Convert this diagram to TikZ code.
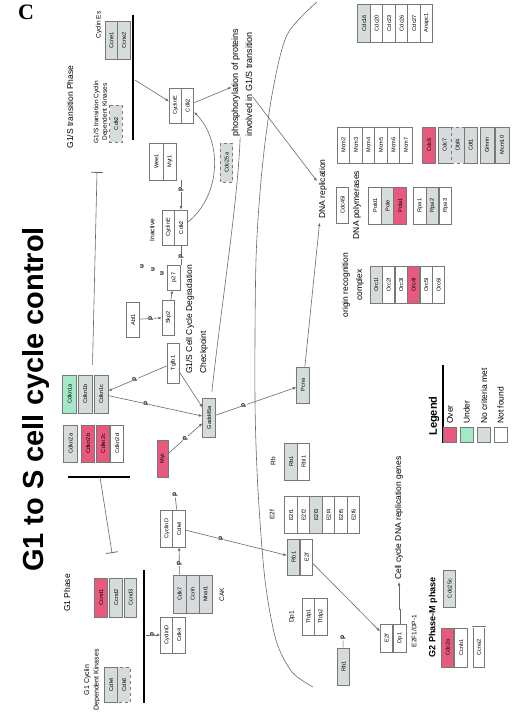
\documentclass[tikz,border=0pt]{standalone}
\usepackage{fontspec}
\setmainfont{Liberation Sans}
\newfontfamily\panelfont{Liberation Serif}
\usetikzlibrary{arrows.meta,positioning}
\definecolor{overred}{RGB}{232,90,125}
\definecolor{undergreen}{RGB}{165,232,200}
\definecolor{nocritgray}{RGB}{214,220,220}
\definecolor{boxline}{RGB}{120,120,120}
\definecolor{linkgray}{RGB}{105,105,105}
\newcommand{\genefont}{\fontsize{5.6}{6}\selectfont}
\newcommand{\lblfont}{\fontsize{8.5}{10}\selectfont}
\newcommand{\smallfont}{\fontsize{6.5}{8.5}\selectfont}
\newcommand{\ptagfont}{\fontsize{6.5}{6.5}\selectfont\bfseries}

\begin{document}
\begin{tikzpicture}[x=1pt,y=-1pt,
    gene/.style={draw=boxline, line width=0.6pt, fill=white, rotate=90, minimum width=37pt, minimum height=12.5pt, inner sep=0pt, font=\genefont},
    over/.style={gene, fill=overred},
    under/.style={gene, fill=undergreen},
    nocrit/.style={gene, fill=nocritgray},
    lbl/.style={rotate=90, inner sep=0pt, font=\lblfont},
    ptag/.style={rotate=90, inner sep=0.4pt, fill=white, font=\ptagfont},
    link/.style={draw=linkgray, line width=0.6pt},
    act/.style={link, -{Latex[length=3.5pt,width=2.8pt]}},
    inh/.style={link, -{Bar[width=12pt,line width=0.8pt]}},
    phasebar/.style={draw=black, line width=1.6pt}]
    \tikzstyle{every node}+=[text=black]
    \useasboundingbox (0,0) rectangle (520,724);

    % titles
    \node[font=\panelfont\bfseries\fontsize{22}{22}\selectfont, inner sep=0pt] (panel) at (26,12) {C};
    \node[rotate=90, anchor=base, inner sep=0pt, font=\bfseries\fontsize{29}{29}\selectfont] (title) at (43.5,399.5) {G1 to S cell cycle control};

    % G1/S transition phase
    \node[lbl] (g1sphase) at (70,107) {G1/S transition Phase};
    \node[lbl, font=\smallfont, align=center] (g1scdk) at (101,112) {G1/S transition Cyclin\\Dependent Kinases};
    \node[lbl, font=\smallfont] (cycEs) at (99,25) {Cyclin Es};
    \node[nocrit, minimum width=38pt] (ccne1) at (111.5,40) {Ccne1};
    \node[nocrit, minimum width=38pt] (ccne2) at (124,40) {Ccne2};
    \node[nocrit, dashed] (cdk2) at (116,123.5) {Cdk2};
    \draw[phasebar] (133,15) -- (133,140);
    \coordinate (g1sarr) at (135,80);

    % cyclin E / Cdk2
    \node[gene, minimum width=35pt] (cycE) at (175.5,105.5) {CyclinE};
    \node[gene, minimum width=35pt] (cdkE) at (187.5,105.5) {Cdk2};
    \node[gene, minimum height=13.5pt] (wee1) at (156.5,161.5) {Wee1};
    \node[gene, minimum height=13.5pt] (myt1) at (170,161.5) {Myt1};
    \node[lbl, font=\smallfont] (inactive) at (152,230) {Inactive};
    \node[gene, minimum width=35pt] (inactE) at (168.5,227.5) {CyclinE};
    \node[gene, minimum width=35pt] (inactK) at (181,227.5) {Cdk2};
    \node[nocrit, dashed, minimum width=39pt] (cdc25a) at (226.5,162.5) {Cdc25a};
    \node[gene, minimum width=25pt] (p27) at (174,277.5) {p27};
    \node[ptag] (ubA) at (142,267) {u};
    \node[ptag] (ubB) at (153,270) {u};
    \node[ptag] (ubC) at (162,274) {u};
    \node[gene, minimum width=35pt] (skp2) at (168.5,317.5) {Skp2};
    \node[gene, minimum width=35pt] (abl1) at (133,319.5) {Abl1};
    \node[gene, minimum width=40pt] (tgfb1) at (173.5,363) {Tgfb1};
    \node[lbl, align=left, anchor=west, font=\fontsize{8.5}{14}\selectfont] (checkpt) at (197,374) {G1/S Cell Cycle Degradation\\Checkpoint};
    \node[lbl, align=left, anchor=west, font=\fontsize{9}{14}\selectfont] (phos) at (242,137) {phosphorylation of proteins\\involved in G1/S transition};

    % CDK inhibitors
    \node[under, minimum width=38pt, minimum height=14pt] (cdkn1a) at (69.5,394) {Cdkn1a};
    \node[nocrit, minimum width=38pt, minimum height=14pt] (cdkn1b) at (85,394) {Cdkn1b};
    \node[nocrit, minimum width=38pt, minimum height=14pt] (cdkn1c) at (101,394) {Cdkn1c};
    \node[nocrit, minimum height=13.5pt] (cdkn2a) at (70.5,443.5) {Cdkn2a};
    \node[over, minimum height=13.5pt] (cdkn2b) at (88,443.5) {Cdkn2b};
    \node[over, minimum height=13.5pt] (cdkn2c) at (103,443.5) {Cdkn2c};
    \node[gene, minimum height=13.5pt] (cdkn2d) at (117,443.5) {Cdkn2d};
    \draw[phasebar, line width=1.2pt] (68,477) -- (130,477);
    \coordinate (cdkn2br) at (100,477);
    \coordinate (g1sinh) at (97,172);
    \coordinate (g1inh) at (112,553);
    \node[over, minimum height=11pt] (myc) at (162.5,458.5) {Myc};
    \node[nocrit, minimum width=39pt] (gadd) at (209,417.5) {Gadd45a};

    % G1 phase
    \node[lbl] (g1phase) at (67,593) {G1 Phase};
    \node[lbl, font=\smallfont] (cycDs) at (100,597) {Cyclin Ds};
    \node[over, minimum width=39pt] (ccnd1) at (101,597.5) {Ccnd1};
    \node[nocrit, minimum width=39pt] (ccnd2) at (116,597.5) {Ccnd2};
    \node[nocrit, minimum width=39pt] (ccnd3) at (130.5,597.5) {Ccnd3};
    \node[lbl, font=\fontsize{7}{9.5}\selectfont, align=center] (g1cdk) at (92,680) {G1 Cyclin\\Dependent Kinases};
    \node[nocrit, minimum width=35pt] (cdk4) at (111,684.5) {Cdk4};
    \node[nocrit, dashed, minimum width=35pt] (cdk6) at (124,684.5) {Cdk6};
    \draw[phasebar] (144,570) -- (144,703);
    \coordinate (g1arr) at (146,635);
    \node[gene, minimum width=36pt] (cycDb) at (167,635) {CyclinD};
    \node[gene, minimum width=36pt] (cdk4b) at (179,635) {Cdk4};
    \node[gene] (cycDa) at (167,528.5) {CyclinD};
    \node[gene] (cdk4a) at (179,528.5) {Cdk4};
    \node[nocrit, minimum width=38pt, minimum height=13pt] (cdk7) at (179.5,594) {Cdk7};
    \node[nocrit, minimum width=38pt, minimum height=13pt] (ccnh) at (192.5,594) {Ccnh};
    \node[nocrit, minimum width=38pt, minimum height=13pt] (mnat1) at (205.5,594) {Mnat1};
    \node[lbl, font=\smallfont] (caklbl) at (222,595) {CAK};
    \node[ptag] (pD) at (175,495) {p};

    % Rb / E2f
    \node[lbl, font=\smallfont] (rblbl) at (273,461) {Rb};
    \node[nocrit] (rb1) at (291,461.5) {Rb1};
    \node[gene] (rbl1) at (303.5,461.5) {Rbl1};
    \node[lbl, font=\smallfont] (e2flbl) at (272,515) {E2f};
    \node[gene] (e2f1) at (291,515) {E2f1};
    \node[gene] (e2f2) at (303.5,515) {E2f2};
    \node[nocrit] (e2f3) at (316,515) {E2f3};
    \node[gene] (e2f4) at (328.5,515) {E2f4};
    \node[gene] (e2f5) at (341,515) {E2f5};
    \node[gene] (e2f6) at (353.5,515) {E2f6};
    \node[nocrit, minimum width=36pt] (rbE) at (293.5,557) {Rb1};
    \node[gene, minimum width=36pt] (e2fE) at (306.5,557) {E2f};
    \node[lbl, font=\smallfont] (dp1lbl) at (292,617) {Dp1};
    \node[gene] (tfdp1) at (309,616.5) {Tfdp1};
    \node[gene] (tfdp2) at (321,616.5) {Tfdp2};
    \node[ptag] (pRb) at (343,638) {p};
    \node[nocrit] (rbp) at (343.5,666.5) {Rb1};
    \node[gene, minimum width=28pt] (e2fd) at (386.5,638) {E2f};
    \node[gene, minimum width=28pt] (dp1) at (400,638) {Dp1};
    \node[lbl, font=\smallfont] (e2fdplbl) at (414,631) {E2F1/DP-1};
    \node[lbl, anchor=west] (ccgenes) at (399,580) {Cell cycle DNA replication genes};

    % G2/M
    \node[lbl, font=\bfseries\fontsize{9}{10}\selectfont] (g2m) at (433,617) {G2 Phase-M phase};
    \node[nocrit] (cdc25c) at (449.5,588.5) {Cdc25c};
    \node[over, minimum width=39pt] (cdc2a) at (447.5,647.5) {Cdc2a};
    \node[gene, minimum width=39pt] (ccnb1) at (461,647.5) {Ccnb1};
    \node[gene, double, minimum width=41pt] (ccna2) at (479,647.5) {Ccna2};

    % DNA replication
    \node[lbl] (dnarep) at (323,189) {DNA replication};
    \node[gene, minimum width=36pt] (mcm2) at (343.5,145) {Mcm2};
    \node[gene, minimum width=36pt] (mcm3) at (356,145) {Mcm3};
    \node[gene, minimum width=36pt] (mcm4) at (368.5,145) {Mcm4};
    \node[gene, minimum width=36pt] (mcm5) at (381,145) {Mcm5};
    \node[gene, minimum width=36pt] (mcm6) at (393.5,145) {Mcm6};
    \node[gene, minimum width=36pt] (mcm7) at (406,145) {Mcm7};
    \node[over, minimum width=36pt] (cdc6) at (429,145) {Cdc6};
    \node[nocrit, minimum width=36pt, minimum height=13pt] (cdc7) at (444.5,145) {Cdc7};
    \node[nocrit, dashed, minimum width=36pt, minimum height=13pt] (dbf4) at (457.5,145) {Dbf4};
    \node[nocrit, minimum width=36pt, minimum height=13pt] (cdt1) at (470.5,145) {Cdt1};
    \node[nocrit, minimum width=36pt, minimum height=14pt] (gmnn) at (487,145) {Gmnn};
    \node[nocrit, minimum width=36pt, minimum height=14pt] (mcm10) at (502,145) {Mcm10};
    \node[gene, minimum width=36pt] (cdc45) at (342.5,205) {Cdc45l};
    \node[lbl] (dnapol) at (357,205) {DNA polymerases};
    \node[gene] (pold1) at (375,205.5) {Pold1};
    \node[nocrit] (pole) at (387.5,205.5) {Pole};
    \node[over] (pola1) at (400,205.5) {Pola1};
    \node[gene] (rpa1) at (420,205.5) {Rpa1};
    \node[nocrit] (rpa2) at (432.5,205.5) {Rpa2};
    \node[gene] (rpa3) at (445.5,205.5) {Rpa3};
    \node[lbl, align=center, font=\fontsize{8.5}{14}\selectfont] (orclbl) at (353,285) {origin recognition\\complex};
    \node[nocrit, minimum height=12.2pt] (orc1) at (376,285) {Orc1l};
    \node[gene, minimum height=12.2pt] (orc2) at (388.5,285) {Orc2l};
    \node[gene, minimum height=12.2pt] (orc3) at (401,285) {Orc3l};
    \node[over, minimum height=12.2pt] (orc4) at (413.5,285) {Orc4l};
    \node[gene, minimum height=12.2pt] (orc5) at (426,285) {Orc5l};
    \node[gene, minimum height=12.2pt] (orc6) at (438.5,285) {Orc6l};
    \node[nocrit, minimum width=38pt] (cdc16) at (364,23) {Cdc16};
    \node[gene, minimum width=38pt] (cdc20) at (376.5,23) {Cdc20};
    \node[gene, minimum width=38pt] (cdc23) at (389,23) {Cdc23};
    \node[gene, minimum width=38pt] (cdc26) at (401.5,23) {Cdc26};
    \node[gene, minimum width=38pt] (cdc27) at (414,23) {Cdc27};
    \node[gene, minimum width=38pt] (anapc1) at (426.5,23) {Anapc1};
    \node[nocrit, minimum width=36pt] (pcna) at (303,385) {Pcna};

    % legend
    \node[rotate=90, inner sep=0pt, font=\bfseries\fontsize{11}{11}\selectfont] (legend) at (434,416) {Legend};
    \draw[black, line width=1.2pt] (443,365) -- (443,443);
    \node[draw=boxline, fill=overred, minimum width=13pt, minimum height=15pt, inner sep=0pt] (lgover) at (450,435) {};
    \node[draw=boxline, fill=undergreen, minimum width=13pt, minimum height=15pt, inner sep=0pt] (lgunder) at (466.5,435) {};
    \node[draw=boxline, fill=nocritgray, minimum width=13pt, minimum height=15pt, inner sep=0pt] (lgnocrit) at (484,435) {};
    \node[draw=boxline, fill=white, minimum width=13pt, minimum height=15pt, inner sep=0pt] (lgnot) at (500.5,435) {};
    \node[lbl, anchor=west] (lgovert) at (450,424) {Over};
    \node[lbl, anchor=west] (lgundert) at (466.5,424) {Under};
    \node[lbl, anchor=west] (lgnocritt) at (484,424) {No criteria met};
    \node[lbl, anchor=west] (lgnott) at (500.5,424) {Not found};

    % connectors
    \draw[link] plot[smooth] coordinates {(317,2) (287,35) (272,95) (262,170) (256,260) (255,400) (258,490) (265,580) (276,640) (292,672) (313,687)};
    \draw[act] (g1sarr) -- (cycE);
    \draw[act] (inactK) .. controls (222,195) and (222,140) .. (cdkE);
    \draw[act] (cdkE) -- (phos);
    \draw[act] (inactK |- myt1.west) -- (inactK) node[ptag, pos=0.3] {p};
    \draw[link] (inactK) -- (inactK |- p27.east) node[ptag, pos=0.6] {p};
    \draw[act] (skp2) -- (p27);
    \draw[act] (abl1) -- (skp2) node[ptag, midway] {p};
    \draw[act] (tgfb1) -- (cdkn1c) node[ptag, pos=0.55] {p};
    \draw[act] (cdkn1c) -- (gadd) node[ptag, pos=0.4] {p};
    \draw[act] (tgfb1) -- (gadd);
    \draw[act] (myc) -- (gadd) node[ptag, midway] {p};
    \draw[act] (gadd) -- (pcna) node[ptag, pos=0.35] {p};
    \draw[act, shorten >=4pt] (pcna) -- (dnarep);
    \draw[act, shorten >=3pt] (phos) -- (dnarep);
    \draw[link, shorten <=6pt] (gadd) .. controls (222,300) and (238,200) .. (phos);
    \draw[inh, shorten <=10pt] (cdkn1b.south east) -- (g1sinh);
    \draw[inh] (cdkn2br) -- (g1inh);
    \draw[act] (g1arr) -- (cycDb) node[ptag, pos=0.45] {p};
    \draw[act] (cdk7) -- (cdk4a) node[ptag, pos=0.4] {p};
    \draw[link] (cdk4a) -- (pD);
    \draw[act] (cdk4a) -- (rbE) node[ptag, pos=0.35] {p};
    \draw[act] (e2fE) -- (e2fd);
    \draw[link] (rbp) -- (pRb);
    \draw[act, shorten >=2pt] (dp1.east) -- ++(0,-14) -| (ccgenes.west);
\end{tikzpicture}
\end{document}
